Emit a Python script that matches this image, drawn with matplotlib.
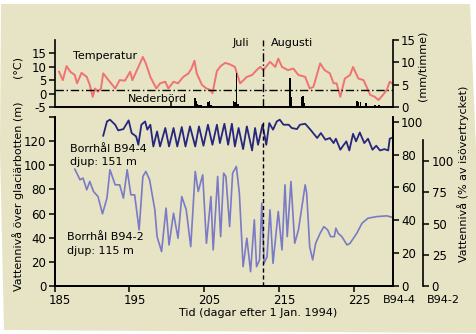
import numpy as np
import matplotlib.pyplot as plt
from matplotlib.patches import Polygon
from matplotlib.transforms import ScaledTranslation

plt.rcParams['font.family'] = 'DejaVu Sans'
plt.rcParams['font.size'] = 8
plt.rcParams['axes.unicode_minus'] = False

# temperatur (grader C)
temp_day = [185.6, 186.1, 186.6, 187.1, 187.7, 188.0, 188.6, 189.3, 189.7, 190.1,
            190.4, 190.8, 191.2, 191.5, 192.2, 193.1, 193.7, 194.4, 195.1, 195.4,
            196.1, 196.8, 197.2, 197.8, 198.6, 199.1, 199.8, 200.2, 200.9, 201.5,
            202.2, 202.9, 203.3, 203.7, 204.0, 204.7, 205.3, 205.8, 206.1, 206.7,
            207.2, 207.8, 208.4, 209.1, 209.8, 210.7, 211.4, 212.0, 212.5, 212.9,
            213.8, 214.5, 214.9, 215.4, 216.2, 216.9, 217.6, 218.5, 219.1, 219.6,
            220.5, 221.1, 221.8, 222.3, 222.7, 223.2, 223.8, 224.5, 224.9, 225.6,
            226.3, 227.2, 227.8, 228.3, 228.9, 229.4, 229.8, 230.1]
temp = [8.2, 5.1, 10.3, 8.2, 7.0, 3.9, 7.8, 6.3, 3.3, -1.1,
        2.0, 0.8, 2.0, 7.6, 5.1, 2.0, 5.1, 4.9, 8.2, 5.1,
        9.4, 13.7, 11.3, 6.3, 2.0, 3.9, 4.5, 2.0, 4.5, 3.9,
        6.3, 7.6, 9.4, 12.3, 7.6, 3.3, 2.0, 1.5, 0.2, 8.5,
        10.3, 11.5, 11.0, 10.0, 3.9, 6.3, 7.0, 8.8, 10.0, 8.8,
        11.9, 10.0, 13.1, 10.0, 8.8, 9.4, 7.0, 6.3, 2.0, 2.6,
        11.3, 8.8, 7.6, 3.9, 3.9, -1.1, 5.7, 7.0, 10.0, 5.7,
        5.1, -0.4, -1.1, -2.3, -0.4, 1.4, 4.5, 3.9]

# nederbord (mm/timme)
rain_day = [203.8, 203.9, 204.1, 204.3, 204.6, 205.5, 205.7, 205.9, 208.9, 209.1,
            209.3, 209.5, 216.5, 216.6, 218.1, 218.2, 218.4, 225.4, 225.6, 225.9,
            226.6, 227.8, 228.4]
rain = [2.0, 1.5, 0.8, 0.6, 0.5, 1.2, 1.5, 0.6, 1.3, 1.2,
        7.6, 0.7, 6.5, 2.4, 2.3, 2.5, 1.0, 1.3, 1.2, 1.2,
        1.0, 0.6, 0.5]

# borrhal B94-4 (m over glaciarbotten)
b4_day = [191.5, 192.0, 192.4, 193.1, 193.5, 194.2, 194.9, 195.3, 195.9, 196.2,
          196.6, 197.1, 197.4, 197.8, 198.2, 198.7, 199.1, 199.8, 200.3, 200.9,
          201.4, 202.0, 202.5, 203.1, 203.8, 204.3, 204.9, 205.5, 206.1, 206.7,
          207.1, 207.7, 208.2, 208.7, 209.1, 209.6, 210.2, 210.7, 211.4, 211.8,
          212.2, 212.8, 213.3, 213.7, 214.2, 214.7, 215.1, 215.6, 216.3, 216.7,
          217.4, 217.8, 218.5, 219.2, 220.1, 220.6, 221.2, 221.8, 222.3, 222.6,
          223.2, 223.5, 224.0, 224.4, 224.9, 225.3, 225.8, 226.4, 226.9, 227.5,
          228.0, 228.5, 229.1, 229.6, 229.8, 230.2]
b4 = [124.5, 136.3, 137.8, 133.6, 128.9, 130.0, 137.2, 126.7, 123.9, 117.0,
      133.6, 136.3, 129.5, 133.6, 115.6, 128.0, 115.6, 130.9, 115.6, 130.9,
      115.6, 131.7, 115.6, 132.2, 115.6, 132.2, 116.2, 133.6, 117.0, 133.6,
      118.4, 134.4, 117.0, 134.4, 115.6, 130.9, 113.4, 132.2, 112.3, 130.9,
      117.0, 133.6, 117.0, 135.0, 129.5, 136.3, 137.8, 133.6, 133.6, 130.9,
      130.0, 133.6, 134.4, 129.5, 122.6, 126.7, 121.2, 122.6, 118.4, 122.0,
      112.9, 115.6, 119.8, 112.3, 126.1, 119.8, 127.2, 118.4, 122.0, 112.9,
      116.2, 112.3, 113.4, 112.3, 122.0, 123.0]

# borrhal B94-2 (m over glaciarbotten)
b2_day = [187.7, 188.4, 188.8, 189.3, 189.7, 190.2, 190.8, 191.4, 192.0, 192.4,
          193.1, 193.7, 194.2, 194.7, 195.2, 195.7, 196.3, 196.8, 197.2, 197.7,
          198.4, 198.7, 199.3, 199.9, 200.3, 200.9, 201.5, 202.0, 202.6, 203.2,
          203.8, 204.2, 204.8, 205.3, 205.9, 206.2, 206.8, 207.2, 207.6, 207.9,
          208.4, 208.8, 209.3, 209.7, 210.2, 210.7, 211.2, 211.7, 212.0, 212.4,
          212.7, 213.0, 213.4, 213.8, 214.2, 214.9, 215.4, 215.8, 216.1, 216.6,
          217.1, 217.6, 218.0, 218.5, 218.7, 219.1, 219.5, 219.9, 220.5, 221.0,
          221.5, 221.9, 222.4, 222.6, 222.9, 223.4, 224.1, 224.5, 225.4, 226.1,
          226.9, 228.1, 229.4, 230.1]
b2 = [96.8, 88.0, 89.4, 79.7, 86.6, 78.3, 74.1, 59.8, 72.8, 96.3,
      83.8, 83.8, 72.8, 96.3, 75.5, 75.5, 46.5, 90.7, 94.9, 88.0,
      63.1, 40.9, 28.5, 64.5, 34.0, 60.3, 39.6, 74.1, 63.1, 32.6,
      94.9, 78.3, 92.1, 35.4, 74.1, 29.9, 90.7, 40.9, 93.5, 90.7,
      49.2, 93.5, 99.0, 76.9, 16.0, 39.6, 11.9, 54.8, 16.0, 21.6,
      68.6, 18.8, 24.3, 63.1, 18.8, 61.7, 29.9, 83.8, 40.9, 86.6,
      35.4, 46.5, 63.1, 83.8, 76.9, 32.6, 21.6, 35.4, 43.7, 49.2,
      46.5, 40.9, 40.9, 47.9, 43.7, 40.9, 34.0, 35.4, 43.7, 52.0,
      56.2, 57.5, 58.1, 57.0]

x_ticks = [185, 195, 205, 215, 225]
aug_day = 212.8        # 1 augusti
zero_line = 1.3
b4_full = 136.0        # m motsvarande 100 % isovertryck, B94-4
b2_full = 103.5        # dito B94-2

BEIGE = '#e6e4c4'
W, H = 477.0, 334.0
def fx(px): return px / W
def fy(py): return 1 - py / H

fig = plt.figure(figsize=(4.77, 3.34), dpi=100, facecolor='white')
paper = Polygon([(fx(1), fy(4)), (fx(470), fy(4)), (fx(476), fy(150)),
                 (fx(477), fy(333)), (fx(4), fy(330)), (fx(0), fy(150))],
                closed=True, transform=fig.transFigure, facecolor=BEIGE,
                edgecolor='none', zorder=-10)
fig.patches.append(paper)

def style(ax):
    for s in ax.spines.values():
        s.set_linewidth(1.2)
    ax.spines['top'].set_visible(False)
    ax.tick_params(length=4, width=1.1, pad=2, labelsize=8.5)

L, R = 54.6, 392.7
# --- temperatur / nederbord ---
ax_t = fig.add_axes([fx(L), fy(107.3), (R - L) / W, (107.3 - 40) / H])
ax_t.patch.set_visible(False)
style(ax_t)
ax_t.spines['right'].set_visible(False)
ax_t.plot(temp_day, temp, color='#f07272', lw=1.4, zorder=3)
ax_t.axhline(zero_line, color='black', lw=1, ls=(0, (6, 2, 1, 2)), zorder=4)
ax_t.axvline(aug_day, color='black', lw=1, ls=(0, (6, 2, 1, 2)), zorder=4)
ax_t.set_xlim(185, 230.2)
ax_t.set_ylim(-5, 20)
ax_t.set_yticks([-5, 0, 5, 10, 15])
ax_t.set_xticks([200.6])
ax_t.set_xticklabels([])
ax_t.tick_params(axis='x', direction='in', length=4)

ax_p = ax_t.twinx()
style(ax_p)
ax_p.spines['left'].set_visible(False)
ax_p.bar(rain_day, rain, width=0.22, color='black', zorder=2)
ax_p.set_ylim(0, 15)
ax_p.set_yticks([0, 5, 10, 15])

# --- vattenniva ---
ax_b = fig.add_axes([fx(L), fy(286), (R - L) / W, (286 - 117) / H])
ax_b.patch.set_visible(False)
style(ax_b)
ax_b.plot(b2_day, b2, color='#7a7ac6', lw=1.2)
ax_b.plot(b4_day, b4, color='#26267e', lw=1.3)
ax_b.axvline(aug_day, ymax=0.98, color='black', lw=1, ls=(0, (3, 2)))
ax_b.set_xlim(185, 230.2)
ax_b.set_ylim(0, 140)
ax_b.set_yticks(np.arange(0, 141, 20))
ax_b.set_yticklabels([str(v) for v in range(0, 121, 20)] + [''])
ax_b.set_xticks(x_ticks)
ax_b.set_xticklabels([str(v) for v in x_ticks])
shift = ScaledTranslation(5.5 / 100, 0, fig.dpi_scale_trans)
for lab in ax_b.get_xticklabels():
    lab.set_transform(lab.get_transform() + shift)

ax_r1 = ax_b.twinx()
style(ax_r1)
ax_r1.set_ylim(0, 140 / b4_full * 100)
ax_r1.set_yticks([0, 20, 40, 60, 80, 100])

ax_r2 = ax_b.twinx()
style(ax_r2)
ax_r2.spines['right'].set_position(('axes', (423.3 - L) / (R - L)))
ax_r2.set_ylim(0, 140 / b2_full * 100)
ax_r2.spines['right'].set_bounds(0, 117)
ax_r2.set_yticks([0, 25, 50, 75, 100])

# --- texter ---
fig.text(fx(73), fy(56), 'Temperatur', ha='left', va='center')
fig.text(fx(128), fy(99.5), 'Nederbörd', ha='left', va='center')
fig.text(fx(233), fy(43), 'Juli', ha='left', va='center')
fig.text(fx(271), fy(43), 'Augusti', ha='left', va='center')
fig.text(fx(70.5), fy(149), 'Borrhål B94-4', ha='left', va='center')
fig.text(fx(70.5), fy(162.5), 'djup: 151 m', ha='left', va='center')
fig.text(fx(67), fy(237.5), 'Borrhål B94-2', ha='left', va='center')
fig.text(fx(67), fy(250.5), 'djup: 115 m', ha='left', va='center')

fig.text(fx(18), fy(67), '(°C)', rotation=90, ha='center', va='center')
fig.text(fx(18), fy(196), 'Vattennivå över glaciärbotten (m)', rotation=90,
         ha='center', va='center')
fig.text(fx(423), fy(66), '(mm/timme)', rotation=90, ha='center', va='center')
fig.text(fx(463), fy(174), 'Vattennivå (% av isövertrycket)', rotation=90,
         ha='center', va='center')
fig.text(fx(258), fy(313), 'Tid (dagar efter 1 Jan. 1994)', ha='center', va='center')
fig.text(fx(399.5), fy(300), 'B94-4', ha='center', va='center')
fig.text(fx(443), fy(300), 'B94-2', ha='center', va='center')

fig.savefig('out.png', dpi=100, facecolor='white')
